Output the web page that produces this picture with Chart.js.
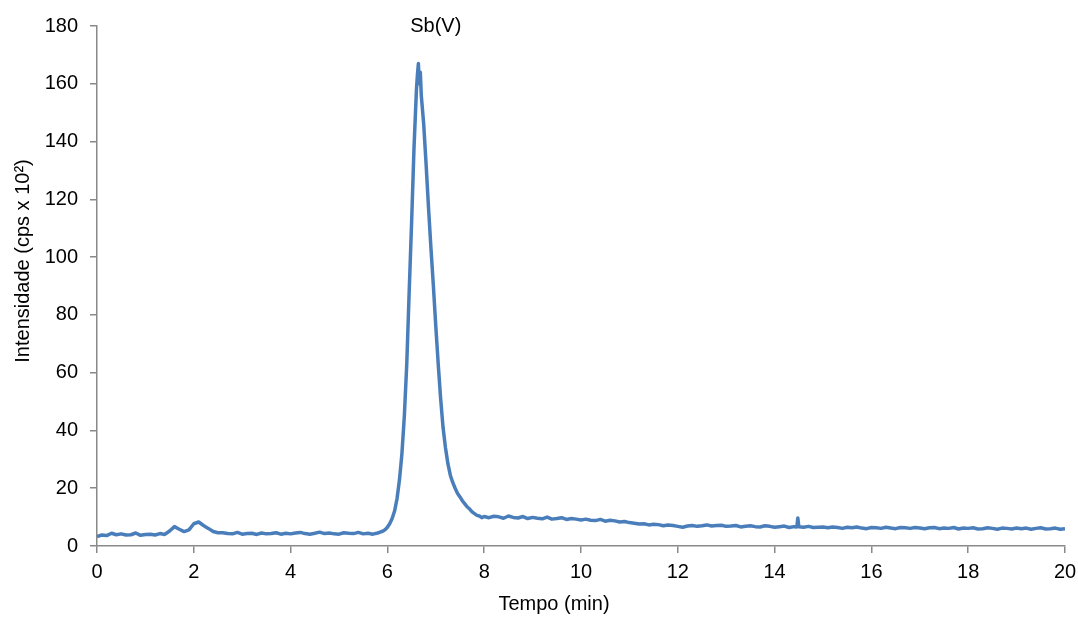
<!DOCTYPE html>
<html>
<head>
<meta charset="utf-8">
<script src="https://cdn.jsdelivr.net/npm/chart.js@4.4.1/dist/chart.umd.min.js"></script>
<style>
html, body { margin: 0; padding: 0; background: #fff; }
</style>
</head>
<body>
<canvas id="myChart" width="1078" height="617"></canvas>
<script>
var tempo = [
	0, 0.1, 0.2, 0.3, 0.4, 0.5, 0.6, 0.7, 0.8, 0.9, 1.0, 1.1, 1.2, 1.3, 1.4,
	1.5, 1.6, 1.7, 1.8, 1.9, 2.0, 2.1, 2.2, 2.3, 2.4, 2.5,
	2.6, 2.7, 2.8, 2.9, 3.0, 3.1, 3.2, 3.3, 3.4, 3.5, 3.6, 3.7, 3.8, 3.9, 4.0,
	4.1, 4.2, 4.3, 4.4, 4.5, 4.6, 4.7, 4.8, 4.9, 5.0, 5.1, 5.2, 5.3, 5.4, 5.5,
	5.6, 5.7, 5.8,
	5.85, 5.90, 5.95, 6.00, 6.05, 6.10, 6.15, 6.20, 6.25, 6.30, 6.35, 6.40, 6.45,
	6.50, 6.55, 6.60, 6.62, 6.64, 6.66, 6.68, 6.70, 6.75, 6.80, 6.85, 6.90, 6.95,
	7.00, 7.05, 7.10, 7.15, 7.20, 7.25, 7.30, 7.35, 7.40, 7.45, 7.50, 7.55, 7.60,
	7.65, 7.70, 7.75, 7.80, 7.85, 7.90, 7.95, 8.00,
	8.1, 8.2, 8.3, 8.4, 8.5, 8.6, 8.7, 8.8, 8.9, 9.0,
	9.1, 9.2, 9.3, 9.4, 9.5, 9.6, 9.7, 9.8, 9.9, 10.0,
	10.1, 10.2, 10.3, 10.4, 10.5, 10.6, 10.7, 10.8, 10.9, 11.0,
	11.1, 11.2, 11.3, 11.4, 11.5, 11.6, 11.7, 11.8, 11.9, 12.0,
	12.1, 12.2, 12.3, 12.4, 12.5, 12.6, 12.7, 12.8, 12.9, 13.0,
	13.1, 13.2, 13.3, 13.4, 13.5, 13.6, 13.7, 13.8, 13.9, 14.0,
	14.1, 14.2, 14.3, 14.4, 14.46, 14.48, 14.5, 14.6, 14.7, 14.8, 14.9, 15.0,
	15.1, 15.2, 15.3, 15.4, 15.5, 15.6, 15.7, 15.8, 15.9, 16.0,
	16.1, 16.2, 16.3, 16.4, 16.5, 16.6, 16.7, 16.8, 16.9, 17.0,
	17.1, 17.2, 17.3, 17.4, 17.5, 17.6, 17.7, 17.8, 17.9, 18.0,
	18.1, 18.2, 18.3, 18.4, 18.5, 18.6, 18.7, 18.8, 18.9, 19.0,
	19.1, 19.2, 19.3, 19.4, 19.5, 19.6, 19.7, 19.8, 19.9, 20.0
];
var intensidade = [
	3.3, 3.8, 3.6, 4.4, 3.9, 4.2, 3.8, 3.9, 4.5, 3.7, 4.0, 4.1, 3.8, 4.3, 4.0,
	5.2, 6.7, 5.8, 5.0, 5.6, 7.7, 8.3, 7.1, 6.1, 5.0, 4.6,
	4.6, 4.3, 4.2, 4.7, 4.1, 4.3, 4.4, 4.0, 4.5, 4.2, 4.3, 4.6, 4.1, 4.4, 4.2,
	4.5, 4.7, 4.3, 4.1, 4.4, 4.8, 4.3, 4.5, 4.2, 4.1, 4.6, 4.4, 4.3, 4.7, 4.2,
	4.4, 4.1, 4.5,
	4.8, 5.1, 5.6, 6.5, 7.8, 9.6, 12.2, 16.5, 23, 32, 45, 63, 88,
	112, 138, 158, 163, 167, 160, 164, 156, 146, 132, 117, 103, 90,
	76, 63, 51, 41, 34, 28.5, 24.5, 22, 20, 18.2, 17, 15.6, 14.6,
	13.5, 12.8, 11.8, 11.2, 10.6, 10.4, 9.8, 10.2,
	9.8, 10.3, 10.1, 9.6, 10.4, 9.9, 9.7, 10.2, 9.5, 9.9,
	9.6, 9.4, 10.0, 9.3, 9.5, 9.8, 9.2, 9.5, 9.3, 9.0,
	9.3, 8.9, 8.8, 9.2, 8.6, 8.9, 8.7, 8.3, 8.5, 8.1,
	7.9, 7.6, 7.7, 7.3, 7.5, 7.4, 7.0, 7.3, 7.1, 6.8,
	6.5, 6.9, 7.1, 6.8, 7.0, 7.3, 6.9, 7.1, 7.2, 6.8,
	6.9, 7.1, 6.6, 6.8, 7.0, 6.7, 6.6, 7.0, 6.8, 6.5,
	6.7, 6.9, 6.4, 6.7, 6.6, 9.7, 6.7, 6.5, 6.8, 6.4, 6.5, 6.6,
	6.3, 6.6, 6.4, 6.1, 6.5, 6.3, 6.6, 6.2, 6.0, 6.4,
	6.3, 6.1, 6.5, 6.2, 6.0, 6.4, 6.3, 6.1, 6.4, 6.2,
	6.0, 6.3, 6.4, 6.0, 6.2, 6.1, 6.4, 5.9, 6.2, 6.1,
	6.3, 5.9, 6.0, 6.3, 6.1, 5.8, 6.2, 6.1, 5.9, 6.2,
	6.0, 6.2, 5.8, 6.1, 6.3, 5.9, 6.0, 6.2, 5.8, 6.0
];
var xTicks = [0, 2, 4, 6, 8, 10, 12, 14, 16, 18, 20];
var yTicks = [0, 20, 40, 60, 80, 100, 120, 140, 160, 180];
var tituloX = "Tempo (min)";
var tituloY = "Intensidade (cps x 10²)";
var pico = { texto: "Sb(V)", x: 7.0, y: 180 };

var fonte = '"Liberation Sans", Arial, sans-serif';
var cinza = '#898989';
var chart;

var textos = {
	id: 'textos',
	afterDraw: function(c) {
		var ctx = c.ctx;
		ctx.save();
		ctx.fillStyle = '#000';
		ctx.font = '20px ' + fonte;
		ctx.textAlign = 'center';
		ctx.textBaseline = 'middle';
		ctx.fillText(tituloX, 554, 604);
		ctx.fillText(pico.texto, c.scales.x.getPixelForValue(pico.x), c.scales.y.getPixelForValue(pico.y));
		ctx.translate(23, 261);
		ctx.rotate(-Math.PI / 2);
		ctx.fillText(tituloY, 0, 0);
		ctx.restore();
	}
};

window.onload = function()
{
	updateChart();
}

function updateChart()
{
	var pontos = [];
	for (var i = 0; i < tempo.length; i++) {
		pontos.push({ x: tempo[i], y: intensidade[i] });
	}

	var ctx = document.getElementById('myChart').getContext('2d');
	chart = new Chart(ctx, {
		type: 'line',
		data: {
			datasets: [{
				label: 'Sb',
				data: pontos,
				borderColor: '#4a7ebb',
				borderWidth: 3.5,
				borderJoinStyle: 'round',
				pointRadius: 0,
				tension: 0,
				fill: false
			}]
		},
		options: {
			responsive: false,
			animation: false,
			layout: { padding: { top: 26, right: 13, left: 0, bottom: 0 } },
			plugins: {
				legend: { display: false },
				tooltip: { enabled: false }
			},
			scales: {
				x: {
					type: 'linear',
					min: xTicks[0],
					max: xTicks[xTicks.length - 1],
					afterBuildTicks: function(s) { s.ticks = xTicks.map(function(v) { return { value: v }; }); },
					afterFit: function(s) { s.height = 71; s.paddingLeft = 0; s.paddingRight = 0; },
					border: { color: cinza, width: 1.5 },
					grid: { drawOnChartArea: false, drawTicks: true, tickLength: 7, color: cinza, lineWidth: 1.5 },
					ticks: { color: '#000', font: { family: fonte, size: 20 }, padding: 7, maxRotation: 0 }
				},
				y: {
					min: yTicks[0],
					max: yTicks[yTicks.length - 1],
					afterBuildTicks: function(s) { s.ticks = yTicks.map(function(v) { return { value: v }; }); },
					afterFit: function(s) { s.width = 97; s.paddingTop = 0; s.paddingBottom = 0; },
					border: { color: cinza, width: 1.5 },
					grid: { drawOnChartArea: false, drawTicks: true, tickLength: 7, color: cinza, lineWidth: 1.5 },
					ticks: { color: '#000', font: { family: fonte, size: 20 }, padding: 12 }
				}
			}
		},
		plugins: [textos]
	});
}
</script>
</body>
</html>
